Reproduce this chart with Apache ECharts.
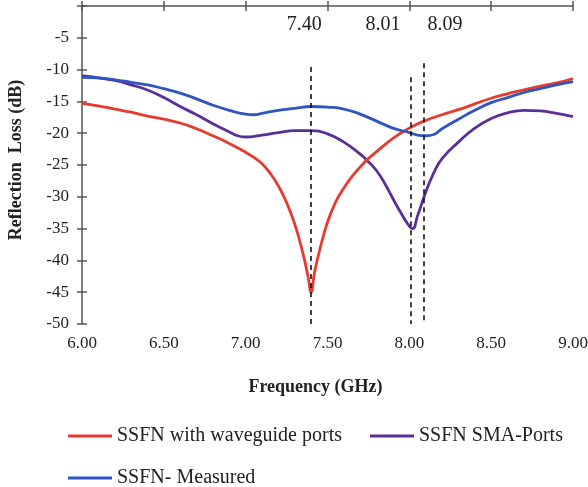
<!DOCTYPE html>
<html>
<head>
<meta charset="utf-8">
<script src="https://cdn.jsdelivr.net/npm/echarts@6/dist/echarts.min.js"></script>
<style>html,body{margin:0;padding:0;background:#fff}#c{width:588px;height:487px}</style>
</head>
<body>
<div id="c"></div>
<script>
// Frequency (GHz) / Reflection loss (dB) pairs
const waveguideFreq = [6.00,6.10,6.20,6.30,6.40,6.50,6.60,6.70,6.80,6.90,7.00,7.05,7.10,7.15,7.20,7.25,7.30,7.35,7.38,7.40,7.42,7.45,7.50,7.55,7.60,7.65,7.70,7.75,7.80,7.90,8.00,8.10,8.20,8.30,8.40,8.50,8.60,8.70,8.80,8.90,9.00];
const waveguideLoss = [-15.3,-15.7,-16.2,-16.7,-17.3,-17.8,-18.4,-19.3,-20.4,-21.6,-23.0,-23.8,-24.8,-26.3,-28.3,-30.9,-34.3,-38.9,-42.4,-45.0,-42.0,-38.6,-34.0,-30.8,-28.6,-26.8,-25.3,-24.0,-22.9,-20.8,-19.2,-18.0,-17.1,-16.3,-15.4,-14.5,-13.8,-13.2,-12.6,-12.1,-11.4];

const smaFreq = [6.00,6.05,6.10,6.20,6.30,6.40,6.50,6.60,6.70,6.80,6.90,6.95,7.00,7.10,7.20,7.30,7.40,7.50,7.60,7.70,7.75,7.80,7.85,7.90,7.95,8.00,8.02,8.05,8.10,8.15,8.20,8.30,8.40,8.50,8.60,8.70,8.80,8.90,9.00];
const smaLoss = [-11.0,-11.1,-11.3,-11.7,-12.4,-13.2,-14.4,-15.8,-17.1,-18.5,-19.8,-20.4,-20.6,-20.3,-19.9,-19.6,-19.6,-20.1,-21.4,-23.3,-24.5,-25.9,-27.9,-30.3,-32.6,-34.6,-35.0,-33.0,-29.3,-26.2,-24.0,-21.4,-19.2,-17.7,-16.8,-16.4,-16.5,-16.9,-17.4];

const measuredFreq = [6.00,6.10,6.20,6.30,6.40,6.50,6.60,6.70,6.80,6.90,7.00,7.05,7.10,7.20,7.30,7.40,7.50,7.60,7.70,7.80,7.90,8.00,8.05,8.10,8.15,8.20,8.30,8.40,8.50,8.60,8.70,8.80,8.90,9.00];
const measuredLoss = [-11.2,-11.3,-11.6,-12.0,-12.4,-13.0,-13.7,-14.6,-15.6,-16.4,-17.0,-17.1,-16.9,-16.4,-16.1,-15.8,-15.9,-16.2,-17.0,-18.1,-19.2,-19.9,-20.3,-20.4,-20.2,-19.3,-17.8,-16.4,-15.2,-14.4,-13.6,-13.0,-12.4,-11.9];

// Resonance markers (dashed lines): frequency, top of dashed line (dB), label
const markerFreq = [7.40, 8.01, 8.09];
const markerTop = [-9.6, -11.2, -9.0];
const markerText = ['7.40', '8.01', '8.09'];

const seriesNames = ['SSFN with waveguide ports', 'SSFN SMA-Ports', 'SSFN- Measured'];
const xTicks = {min: 6, max: 9, step: 0.5};
const yTicks = {min: -50, max: 0, step: 5};

const FONT = "'Liberation Serif','Times New Roman',serif";
const pairs = (xs, ys) => xs.map((x, i) => [x, ys[i]]);
const labelOffsets = [[-7, -27], [-28, -37], [21, -23]];

const markLineData = markerFreq.map((f, i) => [
  {coord: [f, markerTop[i]], label: {show: true, position: 'start', formatter: markerText[i], offset: labelOffsets[i]}},
  {coord: [f, yTicks.min]}
]);

const baseX = {type: 'value', min: xTicks.min, max: xTicks.max, interval: xTicks.step, position: 'bottom'};
const baseY = {type: 'value', min: yTicks.min, max: yTicks.max, interval: yTicks.step, position: 'left'};

const chart = echarts.init(document.getElementById('c'));
chart.setOption({
  animation: false,
  backgroundColor: '#ffffff',
  grid: {left: 82, right: 15, top: 6, bottom: 163, containLabel: false, outerBoundsMode: 'none'},
  legend: [
    {data: [seriesNames[0], seriesNames[1]], left: 63, top: 420, orient: 'horizontal',
     itemWidth: 44, itemHeight: 3, itemGap: 28, icon: 'rect',
     textStyle: {fontFamily: FONT, fontSize: 20, color: '#222', lineHeight: 22}},
    {data: [seriesNames[2]], left: 63, top: 462, orient: 'horizontal',
     itemWidth: 44, itemHeight: 3, icon: 'rect',
     textStyle: {fontFamily: FONT, fontSize: 20, color: '#222', lineHeight: 22}}
  ],
  xAxis: [
    Object.assign({}, baseX, {
      name: 'Frequency (GHz)', nameLocation: 'middle', nameGap: 54,
      nameTextStyle: {fontFamily: FONT, fontSize: 18, fontWeight: 'bold', color: '#222', padding: [0, 24, 0, 0]},
      axisLine: {show: true, lineStyle: {color: '#555', width: 1.5}},
      axisTick: {show: true, inside: false, length: 5, lineStyle: {color: '#555', width: 1.5}},
      axisLabel: {fontFamily: FONT, fontSize: 17, color: '#222', margin: 11, formatter: v => v.toFixed(2)},
      splitLine: {show: false}
    }),
    Object.assign({}, baseX, {
      axisLine: {show: false},
      axisTick: {show: true, inside: true, length: 5, lineStyle: {color: '#555', width: 1.5}},
      axisLabel: {show: false}, splitLine: {show: false}
    })
  ],
  yAxis: [
    Object.assign({}, baseY, {
      name: 'Reflection  Loss (dB)', nameLocation: 'middle', nameGap: 57, nameRotate: 90,
      nameTextStyle: {fontFamily: FONT, fontSize: 18, fontWeight: 'bold', color: '#222', padding: [0, 0, 0, 10]},
      axisLine: {show: true, lineStyle: {color: '#555', width: 1.5}},
      axisTick: {show: true, inside: false, length: 5, lineStyle: {color: '#555', width: 1.5}},
      axisLabel: {fontFamily: FONT, fontSize: 17, color: '#222', margin: 13, formatter: v => v === 0 ? '' : String(v)},
      splitLine: {show: false}
    }),
    Object.assign({}, baseY, {
      axisLine: {show: false},
      axisTick: {show: true, inside: true, length: 5, lineStyle: {color: '#555', width: 1.5}},
      axisLabel: {show: false}, splitLine: {show: false}
    })
  ],
  series: [
    {name: seriesNames[0], type: 'line', data: pairs(waveguideFreq, waveguideLoss),
     showSymbol: false, smooth: 0.5, color: '#e63b2e', lineStyle: {width: 2.8}, z: 3,
     markLine: {silent: true, symbol: ['none', 'none'],
       lineStyle: {color: '#111', type: [5, 4], width: 1.6},
       label: {fontFamily: FONT, fontSize: 20, color: '#222'},
       data: markLineData}},
    {name: seriesNames[1], type: 'line', data: pairs(smaFreq, smaLoss),
     showSymbol: false, smooth: 0.5, color: '#5b2f99', lineStyle: {width: 2.8}, z: 2},
    {name: seriesNames[2], type: 'line', data: pairs(measuredFreq, measuredLoss),
     showSymbol: false, smooth: 0.5, color: '#2f55c0', lineStyle: {width: 2.8}, z: 4}
  ]
});
</script>
</body>
</html>
